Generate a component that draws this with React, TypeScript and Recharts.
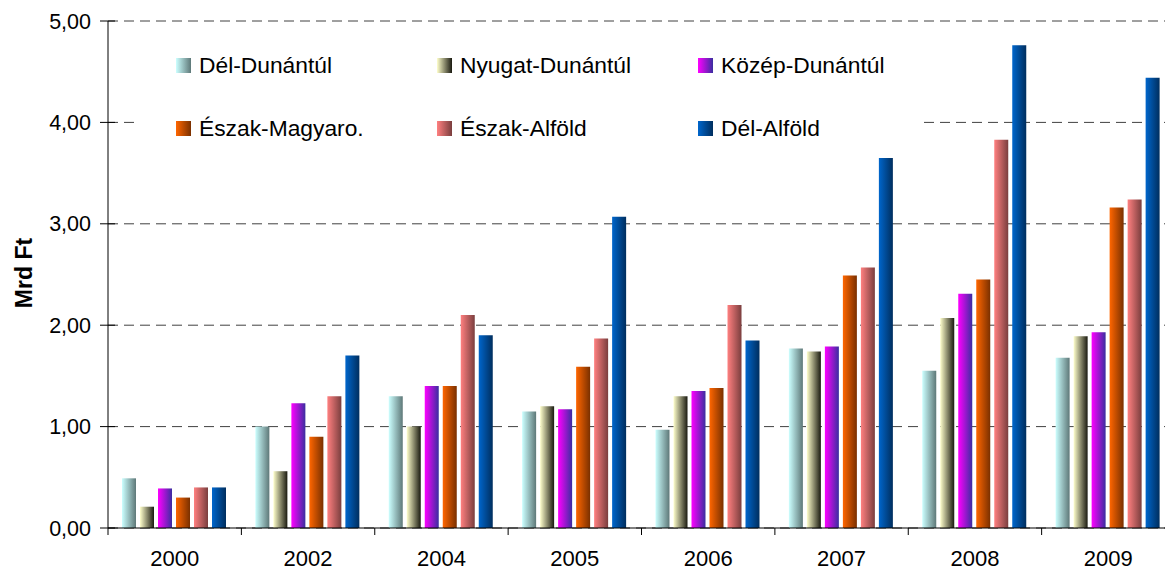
import React from "react";
import {
  Bar,
  BarChart,
  CartesianGrid,
  Legend,
  XAxis,
  YAxis,
} from "recharts";

const years = ["2000", "2002", "2004", "2005", "2006", "2007", "2008", "2009"];

const delDunantul = [0.49, 1.0, 1.3, 1.15, 0.97, 1.77, 1.55, 1.68];
const nyugatDunantul = [0.21, 0.56, 1.0, 1.2, 1.3, 1.74, 2.07, 1.89];
const kozepDunantul = [0.39, 1.23, 1.4, 1.17, 1.35, 1.79, 2.31, 1.93];
const eszakMagyaro = [0.3, 0.9, 1.4, 1.59, 1.38, 2.49, 2.45, 3.16];
const eszakAlfold = [0.4, 1.3, 2.1, 1.87, 2.2, 2.57, 3.83, 3.24];
const delAlfold = [0.4, 1.7, 1.9, 3.07, 1.85, 3.65, 4.76, 4.44];

const yTicks = [0, 1, 2, 3, 4, 5];

const series = [
  { key: "delDunantul", name: "Dél-Dunántúl", values: delDunantul, from: "#ccffff", to: "#5e7878" },
  { key: "nyugatDunantul", name: "Nyugat-Dunántúl", values: nyugatDunantul, from: "#ffffcc", to: "#1a1a10" },
  { key: "kozepDunantul", name: "Közép-Dunántúl", values: kozepDunantul, from: "#ff00ff", to: "#3a2ea0" },
  { key: "eszakMagyaro", name: "Észak-Magyaro.", values: eszakMagyaro, from: "#ff6600", to: "#7a3000" },
  { key: "eszakAlfold", name: "Észak-Alföld", values: eszakAlfold, from: "#ff8080", to: "#7a3e3e" },
  { key: "delAlfold", name: "Dél-Alföld", values: delAlfold, from: "#0066cc", to: "#002e5e" },
];

const data = years.map((year, i) => {
  const row: Record<string, string | number> = { year };
  series.forEach((s) => {
    row[s.key] = s.values[i];
  });
  return row;
});

const FONT = '"Liberation Sans", Arial, sans-serif';
const CHART_W = 1190;
const CHART_H = 571;
const AXIS_W = 108;
const RIGHT = 15;
const TOP = 21;
const BOTTOM_Y = 528;
const BAND = (CHART_W - AXIS_W - RIGHT) / years.length;

const fmt = (v: number) => v.toFixed(2).replace(".", ",");

function XTick(props: any) {
  const { x, payload } = props;
  const left = x - BAND / 2;
  return (
    <g>
      <line x1={left} x2={left} y1={BOTTOM_Y} y2={BOTTOM_Y + 7} stroke="#000" />
      <text x={x} y={566} textAnchor="middle" fontSize={22} fontFamily={FONT} fill="#000">
        {payload.value}
      </text>
    </g>
  );
}

function YTick(props: any) {
  const { y, payload } = props;
  return (
    <g>
      <line x1={100} x2={115} y1={y} y2={y} stroke="#000" />
      <text x={91} y={y} dy="0.35em" textAnchor="end" fontSize={21.5} fontFamily={FONT} fill="#000">
        {fmt(payload.value)}
      </text>
    </g>
  );
}

function YLabel() {
  const cy = 273;
  return (
    <text
      x={32}
      y={cy}
      transform={`rotate(-90, 32, ${cy})`}
      textAnchor="middle"
      fontSize={23}
      fontWeight="bold"
      fontFamily={FONT}
      fill="#000"
    >
      Mrd Ft
    </text>
  );
}

function LegendBox() {
  return (
    <div
      style={{
        position: "relative",
        width: 780,
        height: 120,
        background: "#fff",
        fontFamily: FONT,
        fontSize: 22.8,
        color: "#000",
      }}
    >
      {series.map((s, i) => {
        const col = i % 3;
        const row = Math.floor(i / 3);
        return (
          <div
            key={s.key}
            style={{
              position: "absolute",
              left: 36 + col * 261,
              top: (row === 0 ? 30.5 : 93) - 13,
              height: 26,
              display: "flex",
              alignItems: "center",
              whiteSpace: "nowrap",
            }}
          >
            <span
              style={{
                display: "inline-block",
                width: 15,
                height: 15,
                marginRight: 8,
                background: `linear-gradient(to right, ${s.from}, ${s.to})`,
              }}
            />
            {s.name}
          </div>
        );
      })}
    </div>
  );
}

export default function App() {
  return (
    <div
      style={{
        position: "absolute",
        left: 0,
        top: 0,
        width: 1165,
        height: 571,
        overflow: "hidden",
        background: "#fff",
      }}
    >
      <BarChart
        width={CHART_W}
        height={CHART_H}
        data={data}
        margin={{ top: TOP, right: RIGHT, left: 0, bottom: 0 }}
        barGap={4}
        barCategoryGap={14}
      >
        <defs>
          {series.map((s) => (
            <linearGradient key={s.key} id={`grad-${s.key}`} x1="0" y1="0" x2="1" y2="0">
              <stop offset="0%" stopColor={s.from} />
              <stop offset="100%" stopColor={s.to} />
            </linearGradient>
          ))}
        </defs>
        <CartesianGrid
          vertical={false}
          stroke="#404040"
          strokeDasharray="10 6"
        />
        <XAxis
          dataKey="year"
          height={43}
          axisLine={{ stroke: "#000" }}
          tickLine={false}
          tick={<XTick />}
          interval={0}
        />
        <YAxis
          width={AXIS_W}
          domain={[0, 5]}
          ticks={yTicks}
          axisLine={{ stroke: "#000" }}
          tickLine={false}
          tick={<YTick />}
          label={{ content: () => <YLabel /> }}
        />
        <Legend
          layout="vertical"
          align="center"
          verticalAlign="middle"
          wrapperStyle={{ left: 140, top: 35, width: 780, height: 120 }}
          content={() => <LegendBox />}
        />
        {series.map((s) => (
          <Bar
            key={s.key}
            dataKey={s.key}
            name={s.name}
            fill={`url(#grad-${s.key})`}
            isAnimationActive={false}
          />
        ))}
      </BarChart>
    </div>
  );
}
